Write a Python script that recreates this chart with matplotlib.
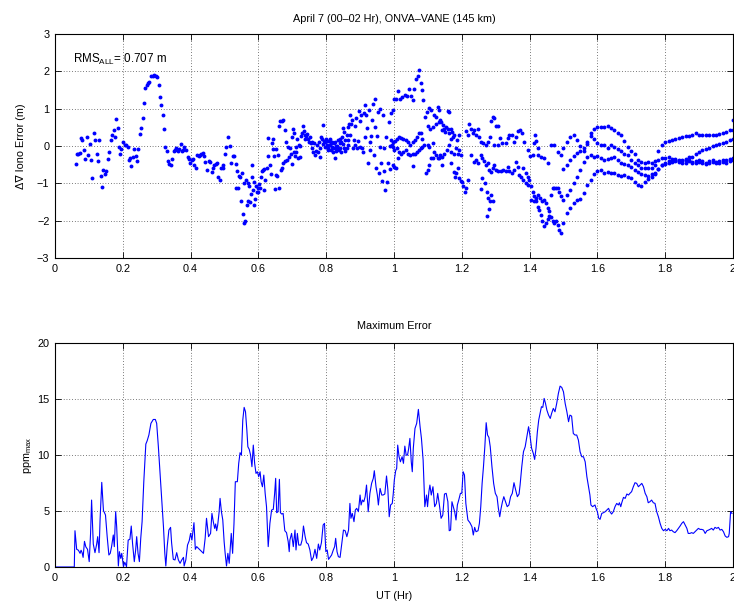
import matplotlib
matplotlib.use("Agg")
import matplotlib.pyplot as plt
from matplotlib.ticker import FuncFormatter
import numpy as np

plt.rcParams['font.family'] = ['Liberation Sans', 'DejaVu Sans']
plt.rcParams['mathtext.fontset'] = 'custom'
plt.rcParams['mathtext.rm'] = 'Liberation Sans'
plt.rcParams['mathtext.it'] = 'Liberation Sans'
plt.rcParams['mathtext.default'] = 'regular'

FS = 7.8

# ---------------- double-difference iono error (m) ----------------
seg_a_ut = [0.061,0.064,0.069,0.074,0.076,0.081,0.085,0.090,0.093,0.098,0.102,0.106,0.110,0.115,0.119,0.123,
            0.126,0.131,0.135,0.139,0.143,0.147,0.151,0.156,0.160,0.164,0.169,0.173,0.176,0.180,0.185,0.189,
            0.193,0.196,0.201,0.206,0.210,0.214,0.218,0.222,0.225,0.229,0.233,0.238,0.242,0.246,0.251,0.255,
            0.259,0.263,0.267,0.271,0.275,0.278,0.283,0.288,0.293,0.298,0.302,0.306,0.310,0.314,0.318,0.322,
            0.325,0.329,0.333,0.337,0.341,0.345,0.350,0.354,0.358,0.362,0.366,0.371,0.375,0.378,0.382,0.387,
            0.391,0.395,0.399,0.403,0.407,0.411,0.416,0.420,0.424,0.428,0.432,0.436,0.440,0.444,0.449,0.453,
            0.457,0.462,0.466,0.470,0.474,0.477,0.481,0.486,0.490,0.495]
seg_a_dv = [-0.47,-0.22,-0.20,-0.18,0.22,0.15,-0.11,-0.34,0.24,-0.24,0.06,-0.36,-0.86,0.34,0.17,-0.22,
            -0.40,0.17,-0.81,-1.09,-0.64,-0.75,-0.66,-0.34,-0.17,0.16,0.31,0.42,0.24,0.72,0.48,-0.03,
            -0.20,-0.09,0.12,0.04,0.03,-0.02,-0.36,-0.33,-0.53,-0.28,-0.07,-0.26,-0.40,-0.07,0.33,0.48,
            0.74,1.16,1.57,1.63,1.68,1.73,1.88,1.89,1.90,1.89,1.85,1.64,1.32,1.11,0.84,0.45,
            -0.03,-0.12,-0.40,-0.48,-0.51,-0.35,-0.12,-0.11,-0.05,-0.14,-0.08,0.06,-0.14,-0.10,-0.02,-0.10,
            -0.29,-0.34,-0.44,-0.36,-0.34,-0.51,-0.58,-0.23,-0.26,-0.24,-0.21,-0.19,-0.26,-0.42,-0.65,-0.40,
            -0.42,-0.69,-0.60,-0.52,-0.48,-0.44,-0.83,-0.90,-0.60,-0.52]

seg_b_ut = [0.497,0.501,0.504,0.509,0.516,0.520,0.525,0.529,0.533,0.535,0.538,0.541,0.543,0.547,0.548,0.553,
            0.554,0.558,0.561,0.559,0.563,0.566,0.568,0.570,0.572,0.575,0.578,0.580,0.582,0.584,0.587,0.588,
            0.590,0.592,0.595,0.598,0.600,0.603,0.606,0.609,0.611,0.614,0.616,0.618,0.621,0.624,0.628,0.629,
            0.633,0.636,0.639,0.642,0.644,0.646,0.649,0.651,0.653,0.656,0.657,0.661,0.662,0.665,0.666,0.669,
            0.670,0.672,0.674,0.678,0.680,0.682,0.685,0.688,0.690,0.693,0.696,0.698,0.700,0.702,0.704,0.706,
            0.708,0.710,0.712,0.715,0.717,0.720,0.722,0.724,0.725,0.729,0.732,0.734,0.737,0.739,0.741,0.744,
            0.747,0.749,0.751,0.754,0.757,0.759,0.762,0.765,0.768,0.770,0.773,0.776,0.778,0.781,0.783,0.786,
            0.788,0.791,0.793,0.796,0.798,0.801,0.803,0.806,0.808,0.811,0.813,0.816,0.818,0.820,0.822,0.825,
            0.827,0.829,0.832,0.835,0.837,0.840,0.842,0.845,0.847,0.850,0.852,0.854,0.857,0.860,0.863,0.865,
            0.867,0.869,0.871,0.874,0.876,0.879,0.881,0.884,0.886,0.889,0.891,0.894,0.896,0.899,0.901,0.904,
            0.906,0.909,0.911,0.914,0.916,0.918,0.921,0.923,0.925,0.928,0.930,0.933,0.935,0.938,0.940,0.943,
            0.945,0.948,0.950,0.953,0.955,0.958,0.960,0.963,0.965,0.968,0.970,0.972,0.974,0.977,0.979,0.982,
            0.984,0.987,0.989,0.992,0.994,0.996,
            0.790,0.800,0.805,0.810,0.815,0.820,0.825,0.830,0.835,0.840,0.845,0.850,0.855,0.860,0.865]
seg_b_dv = [-0.58,-0.22,-0.02,0.25,0.01,-0.44,-0.27,-0.27,-0.49,-1.11,-0.67,-1.11,-0.81,-0.84,-1.46,-0.73,
            -1.82,-2.06,-2.02,-1.00,-0.92,-1.57,-1.00,-1.48,-1.07,-1.50,-1.29,-0.84,-0.51,-1.17,-1.57,-0.95,
            -1.42,-1.06,-1.24,-1.11,-1.24,-1.02,-1.13,-0.84,-0.68,-0.64,-1.17,-0.62,-0.91,-0.60,0.22,-0.27,
            -0.52,-0.74,0.07,-0.09,0.20,-0.26,-1.16,-0.77,-0.07,-0.81,-0.24,0.53,-1.13,0.68,-0.64,0.66,
            -0.58,0.69,-0.44,0.43,-0.40,0.10,-0.36,-0.02,-0.28,-0.06,-0.22,-0.49,0.25,0.47,-0.15,0.36,
            -0.26,-0.17,-0.02,0.20,-0.33,0.03,-0.28,0.00,0.28,0.36,0.53,0.40,0.29,0.20,0.26,0.32,
            0.20,0.10,0.25,0.08,-0.05,0.10,-0.17,0.07,-0.24,-0.12,0.04,-0.15,0.10,-0.28,-0.06,0.25,
            0.20,0.56,0.13,0.12,-0.02,0.13,0.04,-0.06,0.13,0.03,-0.11,-0.02,0.10,-0.17,0.07,-0.06,
            -0.33,-0.13,0.01,0.16,-0.11,0.07,-0.04,0.10,0.25,0.49,-0.06,0.38,-0.12,0.29,0.52,0.16,
            0.60,0.83,0.29,0.58,0.69,-0.04,0.16,0.03,0.54,0.76,-0.06,0.13,0.93,0.67,-0.02,0.83,
            -0.04,-0.15,0.90,1.09,0.25,0.84,0.49,-0.46,0.96,0.12,-0.11,0.28,0.69,1.14,-0.24,1.27,
            0.52,-0.60,0.28,0.92,-0.73,1.00,-0.02,-0.46,-0.93,0.84,-0.68,-0.06,-1.17,0.25,-0.95,-0.46,
            0.65,0.01,-0.61,0.90,0.04,0.96,
            0.05,0.18,-0.10,0.20,0.08,-0.05,0.12,0.00,-0.08,0.18,-0.15,0.05,0.15,-0.05,0.02]

seg_c_ut = [0.999,1.006,1.013,1.019,1.025,1.032,1.037,1.045,1.050,1.055,1.060,1.065,1.070,1.075,1.080,1.082,1.087,
            0.991,0.996,1.003,1.009,1.016,1.020,1.028,1.035,1.042,1.048,1.055,1.062,1.068,1.075,1.080,1.084,
            0.996,1.001,1.009,1.016,1.020,1.028,1.035,1.042,1.048,1.055,1.062,1.068,1.075,1.080,1.084,1.089,
            0.996,1.001,1.006,1.013,1.055,1.094,1.099,
            1.092,1.097,1.104,1.109,1.117,1.124,1.129,1.134,1.137,1.140,1.145,1.148,1.153,1.158,1.163,1.168,1.170,1.173,
            1.101,1.107,1.114,1.124,1.134,1.143,1.150,1.158,1.163,1.168,1.178,1.186,1.193,
            1.099,1.104,1.114,1.119,1.124,1.129,1.137,1.143,1.148,1.156,1.163,1.168,1.178,1.183,1.188,1.193,1.197,
            1.104,1.109,1.114,1.134,1.143,1.168,1.176,1.180,1.183,1.188,1.193,1.197,1.202,1.205,1.209,1.212,1.217,
            1.286,1.291,1.296,1.302,1.308,
            1.212,1.217,1.222,1.227,1.232,1.237,1.242,1.247,1.252,1.256,1.264,1.271,1.276,1.282,1.296,1.306,
            1.313,1.320,1.330,1.337,1.340,1.347,1.353,1.360,1.367,1.373,1.377,1.384,1.394,1.402,1.409,1.416,
            1.419,1.424,
            1.227,1.237,1.242,1.249,1.256,1.261,1.266,1.271,1.276,1.281,1.286,1.291,1.296,1.301,1.308,1.315,
            1.323,1.330,1.335,1.340,1.347,1.353,1.360,1.365,1.370,1.376,1.382,1.389,1.396,
            1.256,1.261,1.268,1.274,1.278,1.281,1.284,1.286,1.291,1.274,
            1.382,1.389,1.394,1.399,1.404,1.409,1.414,1.419,1.424,1.429,1.433,1.438,1.443,1.448,1.453,1.458,
            1.463,1.468,1.473,1.478,1.483,1.488,1.493,
            1.404,1.412,1.419,1.424,1.431,1.438,1.443,1.448,1.453,1.458,1.463,1.468,1.473,1.478,1.483,1.488,1.493,
            1.414,1.424,1.433,1.443,1.453,1.463,1.473,1.483,1.493]
seg_c_dv = [1.27,1.27,1.47,1.27,1.32,1.38,1.34,1.54,1.34,1.23,1.52,1.79,1.88,2.04,1.70,1.50,1.24,
            0.16,0.10,0.13,0.20,0.25,0.22,0.20,0.16,0.10,0.04,0.12,0.16,0.25,0.34,0.36,0.20,
            -0.02,-0.11,-0.04,-0.15,-0.22,-0.17,-0.11,-0.20,-0.24,-0.22,-0.20,-0.15,-0.11,-0.06,-0.02,0.03,
            -0.51,-0.55,-0.60,-0.33,-0.53,-0.73,-0.64,
            0.78,0.92,1.02,0.96,0.83,0.78,1.05,0.96,0.69,0.65,0.56,0.47,0.52,0.93,0.92,0.47,0.38,0.25,
            0.54,0.47,0.52,0.60,0.65,0.43,0.38,0.47,0.34,0.20,0.29,0.16,0.29,
            0.03,-0.02,0.07,-0.15,-0.24,-0.33,-0.24,-0.28,-0.20,-0.11,0.03,-0.15,-0.20,-0.06,-0.20,-0.11,-0.24,
            -0.51,-0.33,-0.31,-0.33,-0.51,-0.46,-0.70,-0.82,-0.73,-0.60,-0.86,-0.93,-0.95,-1.08,-1.22,-1.13,-0.91,
            0.67,0.78,0.76,0.53,0.53,
            0.40,0.29,0.60,0.47,0.34,0.43,0.29,0.45,0.25,0.10,0.07,0.04,0.10,0.25,0.04,0.04,
            0.22,0.07,0.07,0.22,0.29,0.29,0.10,0.25,0.40,0.43,0.34,0.10,-0.11,-0.26,-0.24,0.31,
            0.13,-0.06,
            -0.24,-0.42,-0.37,-0.46,-0.24,-0.33,-0.40,-0.51,-0.46,-0.64,-0.70,-0.60,-0.51,-0.64,-0.68,-0.67,
            -0.64,-0.68,-0.55,-0.68,-0.73,-0.64,-0.42,-0.55,-0.77,-0.82,-0.91,-1.00,-1.04,
            -1.15,-0.86,-1.00,-1.22,-1.40,-1.68,-1.48,-1.31,-1.48,-1.87,
            -0.60,-0.73,-0.84,-0.91,-1.08,-1.22,-1.35,-1.48,-1.62,-1.71,-1.84,-2.02,-2.15,-2.06,-1.95,-1.88,
            -1.91,-2.00,-2.06,-2.02,-2.11,-2.24,-2.33,
            -1.44,-1.48,-1.40,-1.31,-1.40,-1.48,-1.44,-1.53,-1.66,-1.75,-1.31,-1.13,-1.11,-1.11,-1.11,-1.22,-1.35,
            0.07,-0.24,-0.28,-0.33,-0.46,0.04,0.03,-0.15,-0.24]

track_ut = [1.50,1.51,1.52,1.53,1.54,1.55,1.56,1.57,1.58,1.59,1.60,1.61,1.62,1.63,1.64,1.65,1.66,
            1.67,1.68,1.69,1.70,1.71,1.72,1.73,1.74,1.75,1.76,1.77,1.78,1.79,1.80,1.81,1.82,1.83,
            1.84,1.85,1.86,1.87,1.88,1.89,1.90,1.91,1.92,1.93,1.94,1.95,1.96,1.97,1.98,1.99,2.00]
track1_dv = [-0.05,0.12,0.25,0.30,0.15,0.00,-0.12,0.05,0.35,0.45,0.50,0.52,0.52,0.54,0.48,0.42,0.36,
             0.30,0.14,-0.02,-0.12,-0.22,-0.36,-0.43,-0.44,-0.43,-0.45,-0.40,-0.12,0.04,0.10,0.14,0.17,0.20,
             0.22,0.24,0.26,0.28,0.31,0.34,0.30,0.29,0.31,0.30,0.29,0.31,0.33,0.36,0.39,0.42,0.44]
track2_dv = [-0.62,-0.50,-0.38,-0.27,-0.18,-0.12,-0.06,0.12,0.27,0.20,0.08,0.02,0.03,-0.04,0.02,-0.02,-0.08,
             -0.14,-0.22,-0.25,-0.36,-0.45,-0.50,-0.58,-0.60,-0.58,-0.60,-0.50,-0.38,-0.33,-0.32,-0.30,-0.34,-0.37,
             -0.39,-0.37,-0.34,-0.30,-0.28,-0.22,-0.16,-0.10,-0.07,-0.04,-0.01,0.03,0.06,0.08,0.12,0.16,0.20]
track3_dv = [-1.45,-1.32,-1.17,-1.00,-0.82,-0.64,-0.42,-0.28,-0.24,-0.28,-0.27,-0.33,-0.37,-0.35,-0.32,-0.30,-0.37,
             -0.44,-0.48,-0.52,-0.57,-0.64,-0.69,-0.74,-0.78,-0.80,-0.76,-0.72,-0.62,-0.52,-0.45,-0.40,-0.36,-0.35,
             -0.37,-0.40,-0.38,-0.36,-0.42,-0.40,-0.37,-0.40,-0.44,-0.41,-0.38,-0.42,-0.40,-0.37,-0.36,-0.34,-0.32]
track4_dv = [-2.05,-1.80,-1.65,-1.52,-1.44,-1.42,-1.26,-1.04,-0.90,-0.76,-0.67,-0.65,-0.72,-0.69,-0.73,-0.72,-0.78,
             -0.81,-0.78,-0.83,-0.86,-0.95,-1.03,-1.06,-0.97,-0.88,-0.84,-0.76,-0.62,-0.52,-0.48,-0.46,-0.42,-0.40,
             -0.43,-0.46,-0.44,-0.41,-0.46,-0.45,-0.42,-0.45,-0.47,-0.44,-0.42,-0.46,-0.45,-0.43,-0.44,-0.41,-0.38]
edge_ut = [2.00]
edge_dv = [0.71]

rms_all = 0.707

# ---------------- maximum error (ppm) ----------------
err_ut = [0.000,0.054,0.057,0.059,0.064,0.069,0.074,0.077,0.080,0.083,0.087,0.091,0.096,0.101,0.105,0.108,
          0.113,0.118,0.123,0.126,0.130,0.133,0.138,0.143,0.146,0.149,0.154,0.159,0.163,0.167,0.172,0.175,
          0.179,0.182,0.187,0.190,0.194,0.197,0.202,0.206,0.211,0.216,0.221,0.225,0.229,0.234,0.238,0.241,
          0.245,0.249,0.253,0.257,0.262,0.268,0.272,0.277,0.283,0.290,0.296,0.300,0.305,0.310,0.315,0.320,
          0.324,0.327,0.331,0.336,0.341,0.344,0.349,0.354,0.359,0.364,0.369,0.374,0.379,0.381,0.386,0.391,
          0.396,0.400,0.404,0.410,0.414,0.418,0.426,0.433,0.438,0.443,0.447,0.453,0.459,0.463,0.467,0.471,
          0.474,0.477,0.480,0.484,0.487,0.491,0.495,0.499,0.502,0.506,0.510,0.514,0.517,0.520,0.524,0.528,
          0.532,0.538,0.542,0.546,0.550,0.554,0.558,0.562,0.566,0.569,0.573,0.577,0.581,0.585,0.589,0.593,
          0.597,0.601,0.605,0.608,0.612,0.616,0.620,0.624,0.629,0.634,0.639,0.644,0.648,0.651,0.654,0.658,
          0.662,0.665,0.669,0.673,0.678,0.683,0.688,0.691,
          0.693,0.698,0.703,0.708,0.711,0.715,0.719,0.725,0.729,0.733,0.738,0.742,0.747,0.752,0.757,0.762,
          0.767,0.772,0.777,0.781,0.786,0.791,0.795,0.799,0.803,0.807,0.811,0.816,0.821,0.825,0.828,0.832,
          0.836,0.841,0.846,0.851,0.856,0.861,0.866,0.870,0.873,0.877,0.882,0.886,0.890,0.895,0.900,0.903,
          0.907,0.911,0.915,0.919,0.924,0.929,0.934,0.939,0.942,0.947,0.951,0.954,0.959,0.964,0.968,0.973,
          0.978,0.982,0.986,0.990,0.995,0.998,1.001,1.005,1.008,1.011,1.015,1.019,1.024,1.028,1.032,1.036,
          1.040,1.043,1.047,1.051,1.054,1.057,1.062,1.067,1.072,1.077,1.081,1.086,1.089,1.091,1.096,1.099,
          1.103,1.106,1.110,1.115,1.120,1.125,1.129,1.134,1.139,1.144,1.149,1.154,1.159,1.163,1.167,1.171,
          1.175,1.179,1.183,1.187,1.191,1.196,1.200,1.204,1.208,1.212,1.218,1.224,1.230,1.234,1.238,1.242,
          1.248,1.252,1.256,1.260,1.264,1.268,1.272,1.276,1.280,1.284,1.289,1.294,1.299,1.304,1.308,1.312,
          1.316,1.320,1.324,1.329,1.334,1.339,1.344,1.349,1.354,1.359,1.364,1.369,
          1.372,1.377,1.382,1.387,1.392,1.397,1.401,1.406,1.411,1.415,1.419,1.423,1.427,1.431,1.435,1.439,
          1.443,1.447,1.451,1.456,1.461,1.465,1.470,1.475,1.480,1.485,1.490,1.495,1.500,1.505,1.510,1.515,
          1.519,1.524,1.529,1.534,1.539,1.544,1.549,1.554,1.559,1.564,1.569,1.574,1.578,1.581,1.586,1.593,
          1.596,1.600,1.604,1.608,1.613,1.618,1.623,1.628,1.633,1.637,1.642,1.647,1.652,1.657,1.662,1.665,
          1.669,1.672,1.677,1.682,1.687,1.692,1.696,1.701,1.706,1.711,1.716,1.721,1.726,1.731,1.736,1.741,
          1.746,1.750,1.755,1.760,1.765,1.770,1.775,1.780,1.785,1.790,1.795,1.800,1.805,1.810,1.814,1.819,
          1.824,1.829,1.834,1.839,1.844,1.849,1.854,1.859,1.864,1.868,1.873,1.878,1.883,1.888,1.893,1.898,
          1.903,1.908,1.913,1.918,1.923,1.928,1.932,1.937,1.942,1.947,1.952,1.957,1.962,1.967,1.972,1.977,
          1.982,1.987,1.989,1.993,1.997]
err_ppm = [0,0,0,3.24,1.58,1.50,1.22,1.50,1.28,0.86,2.29,1.80,1.58,0.48,3.00,5.98,
           2.05,1.28,2.05,2.71,1.28,4.20,7.56,5.03,4.85,4.64,2.71,1.07,1.22,1.82,2.86,1.82,
           4.94,3.60,0.09,1.37,0.77,1.22,0.03,0.42,0.03,2.41,2.47,3.66,2.05,0.48,1.52,2.71,
           1.22,0.48,2.56,4.05,7.62,10.98,11.28,11.79,12.83,13.18,13.18,12.83,10.74,8.36,5.83,3.60,
           1.22,0.09,1.82,3.30,3.54,2.17,0.68,0.63,1.28,0.63,0.33,0.63,0.86,0.09,0.63,1.96,
           2.35,3.00,2.41,3.96,1.58,1.82,1.58,1.37,1.22,2.56,4.35,2.71,3.00,4.79,4.05,3.45,
           3.84,3.24,3.75,4.85,6.13,4.94,4.20,2.26,1.22,0.09,1.22,0.33,1.67,3.00,1.22,3.84,
           7.62,7.62,9.26,10.21,10.00,13.13,14.26,13.87,12.23,10.74,10.51,10.00,8.96,10.89,9.26,8.36,
           8.51,8.07,8.51,7.62,7.17,8.21,6.58,5.39,1.82,3.90,5.09,5.15,6.58,7.92,4.85,4.94,
           7.83,4.85,4.73,4.79,3.24,3.07,2.26,1.37,
           2.41,3.00,1.82,3.30,1.52,3.00,1.96,1.96,2.41,3.66,2.71,2.17,2.05,1.52,0.57,0.86,
           1.58,0.77,2.05,1.52,2.17,3.75,3.90,1.37,1.52,0.68,0.86,1.07,1.52,1.82,2.56,1.37,
           0.92,0.86,2.05,3.30,3.24,2.71,3.30,5.68,4.35,4.79,4.05,5.09,5.24,4.94,6.43,5.54,
           5.98,5.83,6.28,7.32,4.94,6.58,7.47,7.92,8.60,7.17,6.43,5.54,7.02,6.43,6.43,6.52,
           8.13,6.88,4.49,5.54,5.68,6.58,7.77,8.60,8.81,10.89,9.85,9.40,9.85,9.26,10.80,10.00,
           10.00,10.51,11.49,9.40,8.51,10.60,12.38,12.83,14.08,12.53,11.49,9.55,6.88,5.39,6.43,5.39,
           6.73,7.32,6.43,7.17,5.39,5.68,6.58,5.54,4.35,4.64,6.52,6.58,5.83,3.24,3.30,5.83,
           5.39,4.94,4.20,5.54,5.98,6.58,6.58,8.51,8.21,5.68,4.20,3.96,3.60,2.86,3.54,3.15,
           3.24,3.90,5.39,7.47,8.96,10.74,12.89,11.79,11.58,10.74,8.96,7.47,6.58,6.28,5.24,4.49,
           5.24,5.83,6.28,5.83,5.39,5.54,6.28,6.58,7.53,6.88,6.28,6.52,
           7.32,8.96,10.30,10.74,11.64,12.53,11.79,10.60,10.15,9.61,10.60,12.08,13.13,13.72,14.32,14.26,
           15.06,14.61,14.02,13.57,13.27,13.72,14.17,13.87,14.61,15.51,16.16,16.04,15.65,14.61,13.87,12.98,
           13.57,13.48,11.93,11.79,11.79,11.34,10.30,9.85,9.85,9.40,8.07,7.17,6.43,5.54,5.39,5.54,
           5.24,4.94,4.35,4.26,4.79,4.85,4.94,5.09,5.24,4.94,4.73,4.94,5.39,5.68,5.54,5.74,
           5.39,5.74,6.22,6.13,6.52,6.43,6.58,6.73,7.17,7.53,7.47,7.17,7.32,7.47,7.17,6.58,
           6.28,5.74,5.83,5.98,5.74,5.68,4.94,4.49,3.90,3.45,3.24,3.36,3.24,3.45,3.24,3.30,
           3.15,3.07,3.24,3.45,3.66,3.90,4.05,3.75,3.45,3.00,3.00,3.07,3.00,3.15,3.30,3.45,
           3.36,3.36,3.30,3.00,3.24,3.30,3.36,3.45,3.30,3.54,3.45,3.54,3.30,3.36,3.15,2.77,
           2.65,2.71,3.00,4.94,4.79]

x_ticks = [0, 0.2, 0.4, 0.6, 0.8, 1.0, 1.2, 1.4, 1.6, 1.8, 2.0]

BLUE = (0, 0, 1)

fig = plt.figure(figsize=(7.34, 6.10), dpi=100)
ax1 = fig.add_axes([0.0749, 0.577, 0.9237, 0.367])
ax2 = fig.add_axes([0.0749, 0.0705, 0.9237, 0.367])

fmt = FuncFormatter(lambda v, p: f"{v:g}".replace('-', '\u2212'))


def style(ax):
    ax.set_xlim(0, 2)
    ax.set_xticks(x_ticks)
    ax.xaxis.set_major_formatter(fmt)
    ax.yaxis.set_major_formatter(fmt)
    ax.tick_params(direction='in', length=4, width=0.6, top=True, right=True,
                   labelsize=FS, pad=4, colors='black')
    ax.grid(True, color='black', linestyle=(0, (1, 3.0)), linewidth=0.5)
    for s in ax.spines.values():
        s.set_linewidth(0.8)
        s.set_color('black')
    ax.set_axisbelow(True)


# top panel: scatter of all satellite pairs
marks = dict(linestyle='none', marker='o', markersize=2.8, markeredgewidth=0,
             color=BLUE, clip_on=True)
ax1.plot(seg_a_ut, seg_a_dv, **marks)
ax1.plot(seg_b_ut, seg_b_dv, **marks)
ax1.plot(seg_c_ut, seg_c_dv, **marks)
for tr in (track1_dv, track2_dv, track3_dv, track4_dv):
    ax1.plot(track_ut, tr, **marks)
ax1.plot(edge_ut, edge_dv, **marks)
style(ax1)
ax1.set_ylim(-3, 3)
ax1.set_yticks([-3, -2, -1, 0, 1, 2, 3])
ax1.set_ylabel('\u0394\u2207 Iono Error (m)', fontsize=FS)
ax1.yaxis.set_label_coords(-0.043, 0.5)
ax1.set_title('April 7 (00\u201302 Hr), ONVA\u2013VANE (145 km)', fontsize=FS, pad=9)
ax1.text(0.053, 2.24, f'RMS$_{{ALL}}$= {rms_all:.3f} m', fontsize=8.4, ha='left', va='baseline')

# bottom panel: maximum error
ax2.plot(err_ut, err_ppm, color=BLUE, linewidth=0.8)
style(ax2)
ax2.set_ylim(0, 20)
ax2.set_yticks([0, 5, 10, 15, 20])
ax2.set_ylabel('ppm$_{max}$', fontsize=FS)
ax2.yaxis.set_label_coords(-0.031, 0.5)
ax2.set_xlabel('UT (Hr)', fontsize=FS, labelpad=6)
ax2.set_title('Maximum Error', fontsize=FS, pad=10)

fig.savefig('out.png', dpi=100)
